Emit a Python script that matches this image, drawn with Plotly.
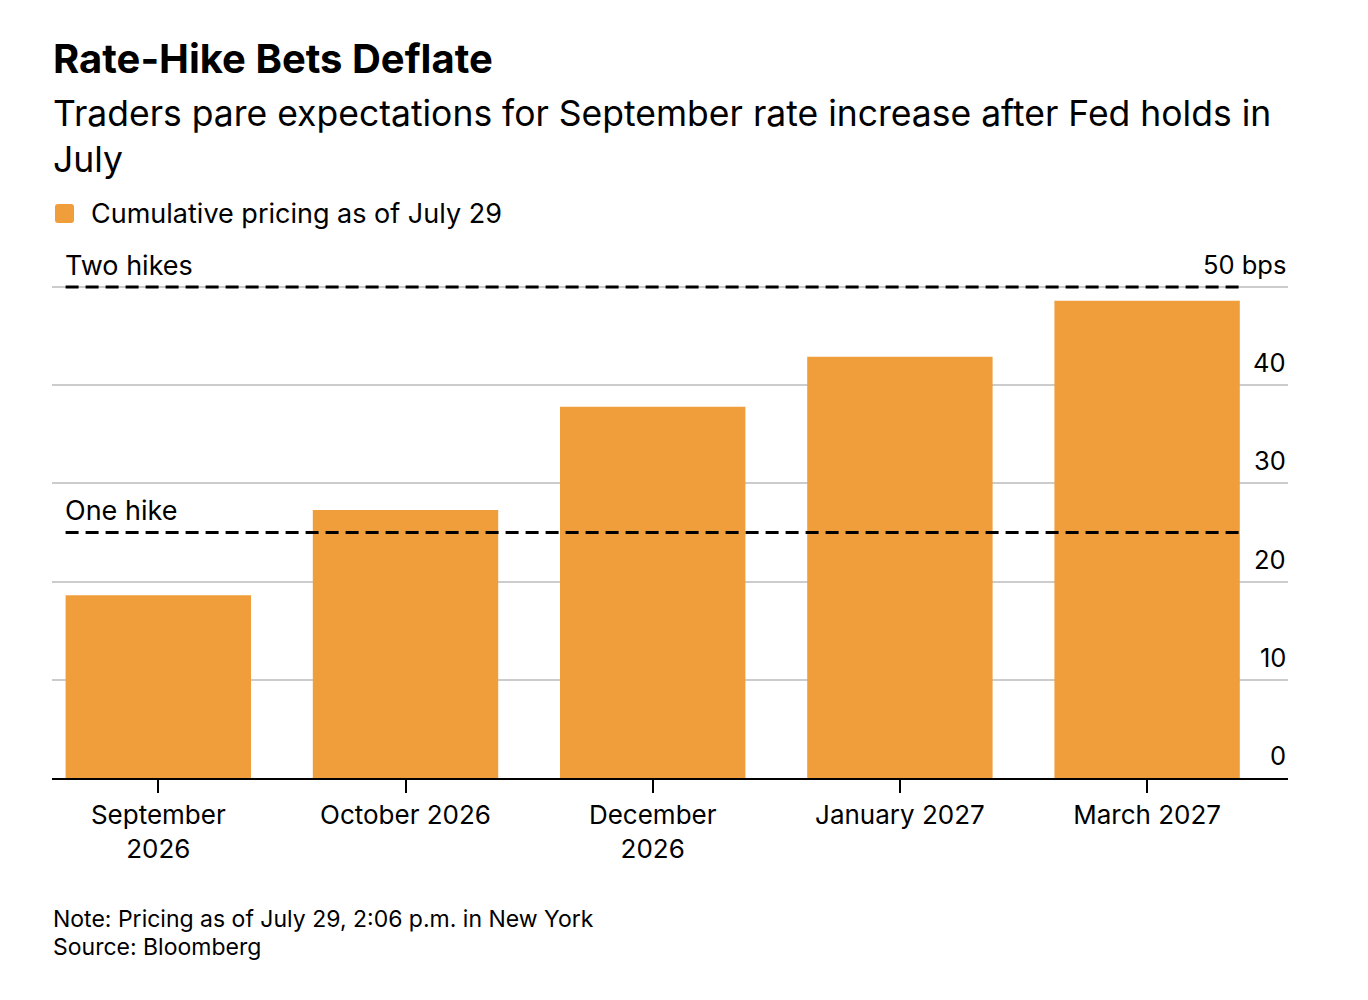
import plotly.graph_objects as go

categories = ["September<br>2026", "October 2026", "December<br>2026", "January 2027", "March 2027"]
values = [18.6, 27.3, 37.8, 42.9, 48.6]
tick_vals = [0, 10, 20, 30, 40, 50]
tick_text = ["0", "10", "20", "30", "40", "50 bps"]
ref_levels = [25, 50]
ref_labels = ["One hike", "Two hikes"]

FONT = "Inter"
BAR = "#F09E3B"

W, H = 1368, 1000
YMAX = 50.4
L, R, B = 52, 80, 222
PH = 491 * YMAX / 50
T = H - B - PH


def py(pix):
    return (H - B - pix) / PH


def px(pix):
    return (pix - L) / (W - L - R)


fig = go.Figure()
fig.add_trace(go.Bar(
    x=list(range(len(categories))), y=values, marker=dict(color=BAR, line=dict(width=0)),
    showlegend=False, hoverinfo="skip",
))

bar_half = 0.75 / 2
shapes = []
for lv in ref_levels:
    shapes.append(dict(type="line", xref="x", yref="y", x0=-bar_half, x1=len(categories) - 1 + bar_half,
                       y0=lv, y1=lv, line=dict(color="black", width=3, dash="13px,7px"), layer="above"))
# legend swatch (rounded square)
shapes.append(dict(type="path", xref="paper", yref="paper", xsizemode="pixel", ysizemode="pixel",
                   xanchor=px(55), yanchor=py(223),
                   path="M3,0 L16,0 Q19,0 19,3 L19,16 Q19,19 16,19 L3,19 Q0,19 0,16 L0,3 Q0,0 3,0 Z",
                   fillcolor=BAR, line=dict(width=0)))

annotations = [
    dict(text="<b>Rate-Hike Bets Deflate</b>", x=px(51), y=py(59), xanchor="left", yanchor="middle",
         font=dict(size=40, color="black", family=FONT)),
    dict(text="Traders pare expectations for September rate increase after Fed holds in", x=px(51), y=py(114),
         xanchor="left", yanchor="middle", font=dict(size=35.5, color="black", family=FONT)),
    dict(text="July", x=px(51), y=py(160), xanchor="left", yanchor="middle",
         font=dict(size=35.5, color="black", family=FONT)),
    dict(text="Cumulative pricing as of July 29", x=px(89), y=py(214), xanchor="left", yanchor="middle",
         font=dict(size=27, color="black", family=FONT)),
    dict(text="Note: Pricing as of July 29, 2:06 p.m. in New York", x=px(51), y=py(919), xanchor="left",
         yanchor="middle", font=dict(size=23, color="black", family=FONT)),
    dict(text="Source: Bloomberg", x=px(51), y=py(947), xanchor="left",
         yanchor="middle", font=dict(size=23, color="black", family=FONT)),
]
for lv, lab in zip(ref_levels, ref_labels):
    annotations.append(dict(text=lab, xref="x", yref="y", x=-bar_half, y=lv, xanchor="left", yanchor="bottom",
                            yshift=3, xshift=-3, font=dict(size=27, color="black", family=FONT)))
for tv, tt in zip(tick_vals, tick_text):
    annotations.append(dict(text=tt, xref="paper", yref="y", x=1, y=tv, xanchor="right", yanchor="bottom",
                            yshift=5, font=dict(size=25.5, color="black", family=FONT)))
for a in annotations:
    a.setdefault("xref", "paper")
    a.setdefault("yref", "paper")
    a["showarrow"] = False

fig.update_layout(
    width=W, height=H,
    margin=dict(l=L, r=R, t=T, b=B, pad=0),
    plot_bgcolor="white", paper_bgcolor="white",
    bargap=0.25,
    shapes=shapes, annotations=annotations,
    font=dict(family=FONT, color="black"),
    xaxis=dict(
        tickmode="array", tickvals=list(range(len(categories))), ticktext=categories,
        range=[-0.43, len(categories) - 0.43], showgrid=False, zeroline=False,
        showline=True, linecolor="black", linewidth=2,
        ticks="outside", ticklen=13, tickwidth=2, tickcolor="black",
        tickfont=dict(size=26, color="black", family=FONT), fixedrange=True,
    ),
    yaxis=dict(
        range=[0, YMAX], side="right", tickmode="array", tickvals=tick_vals,
        showticklabels=False, showgrid=True, gridcolor="#cccccc", gridwidth=2,
        zeroline=False, showline=False, ticks="", fixedrange=True,
    ),
)

fig.write_html("out.html")
